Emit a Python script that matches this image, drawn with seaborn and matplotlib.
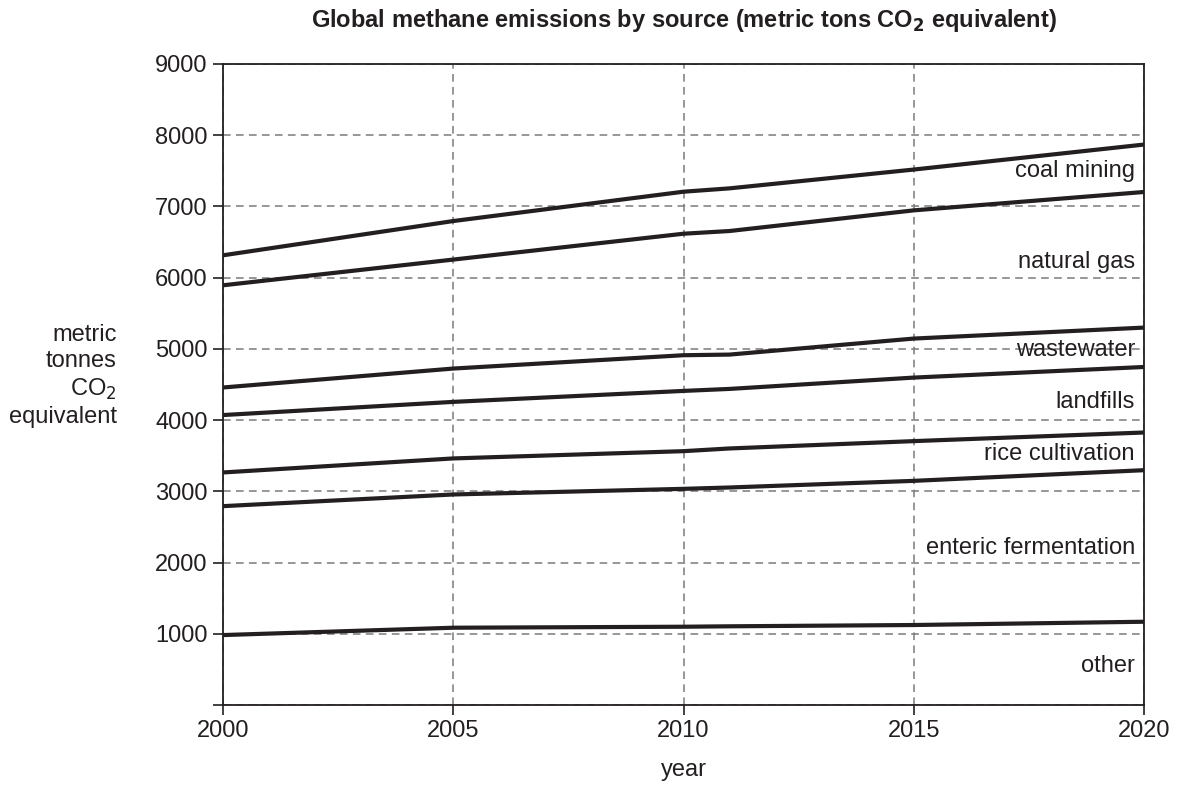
import numpy as np
import pandas as pd
import matplotlib
matplotlib.use("Agg")
import matplotlib.pyplot as plt
import seaborn as sns

# ---- data (per-source emissions, stacked bottom to top) ----
years = [2000, 2005, 2010, 2011, 2015, 2020]
sources = ["other", "enteric fermentation", "rice cultivation", "landfills",
           "wastewater", "natural gas", "coal mining"]
other = [982, 1085, 1099, 1105, 1123, 1169]
enteric_fermentation = [1810, 1871, 1936, 1949, 2024, 2128]
rice_cultivation = [473, 506, 529, 548, 558, 529]
landfills = [806, 794, 846, 836, 892, 920]
wastewater = [387, 468, 501, 482, 548, 553]
natural_gas = [1435, 1530, 1706, 1735, 1800, 1904]
coal_mining = [421, 541, 590, 599, 573, 666]
x_ticks = [2000, 2005, 2010, 2015, 2020]
y_ticks = [0, 1000, 2000, 3000, 4000, 5000, 6000, 7000, 8000, 9000]
y_tick_labels = ["", "1000", "2000", "3000", "4000", "5000", "6000", "7000", "8000", "9000"]

series = [other, enteric_fermentation, rice_cultivation, landfills,
          wastewater, natural_gas, coal_mining]
cum = np.cumsum(np.array(series, dtype=float), axis=0)

rows = []
for s, vals in zip(sources, cum):
    for yr, v in zip(years, vals):
        rows.append({"year": yr, "source": s, "value": v})
df = pd.DataFrame(rows)

sns.set_theme(style="white")
plt.rcParams["font.family"] = ["Liberation Sans", "DejaVu Sans"]
ink = "#231f20"
plt.rcParams["text.color"] = ink
plt.rcParams["axes.labelcolor"] = ink
plt.rcParams["xtick.color"] = ink
plt.rcParams["ytick.color"] = ink

fig = plt.figure(figsize=(11.78, 7.89), dpi=100)
ax = fig.add_axes([223 / 1178, 1 - 705 / 789, (1144 - 223) / 1178, (705 - 64) / 789])

sns.lineplot(data=df, x="year", y="value", hue="source", hue_order=sources,
             palette=[ink] * len(sources), linewidth=3.0, legend=False, ax=ax,
             zorder=3, estimator=None)

ax.set_xlim(2000, 2020)
ax.set_ylim(0, 9000)
ax.set_xticks(x_ticks)
ax.set_xticklabels([str(t) for t in x_ticks])
ax.set_yticks(y_ticks)
ax.set_yticklabels(y_tick_labels)
ax.tick_params(axis="both", direction="out", length=7, width=1.2, labelsize=17,
               pad=4, bottom=True, left=True)
ax.grid(True, which="major", linestyle=(0, (5, 3.5)), color="#7a7a7a",
        linewidth=1.1, zorder=0)
for sp in ax.spines.values():
    sp.set_color(ink)
    sp.set_linewidth(1.3)
    sp.set_visible(True)

ax.set_xlabel("year", fontsize=17, labelpad=12)
ax.set_ylabel("")
fig.text(117 / 1178, 1 - 376 / 789, "metric\ntonnes\nCO$_2$\nequivalent",
         ha="right", va="center", fontsize=17, linespacing=1.25, multialignment="right")

ax.set_title("Global methane emissions by source (metric tons CO$_\\mathbf{2}$ equivalent)",
             fontsize=17, fontweight="bold", pad=27, color=ink)

# band labels, right aligned, centred within each band at the final year
lower = np.vstack([np.zeros(len(years)), cum[:-1]])
for i, s in enumerate(sources):
    mid = (lower[i][-1] + cum[i][-1]) / 2
    ax.annotate(s, xy=(years[-1], mid), xytext=(-6.5, 0), textcoords="offset points",
                ha="right", va="center_baseline", fontsize=17, color=ink)

fig.savefig("out.png", dpi=100)
